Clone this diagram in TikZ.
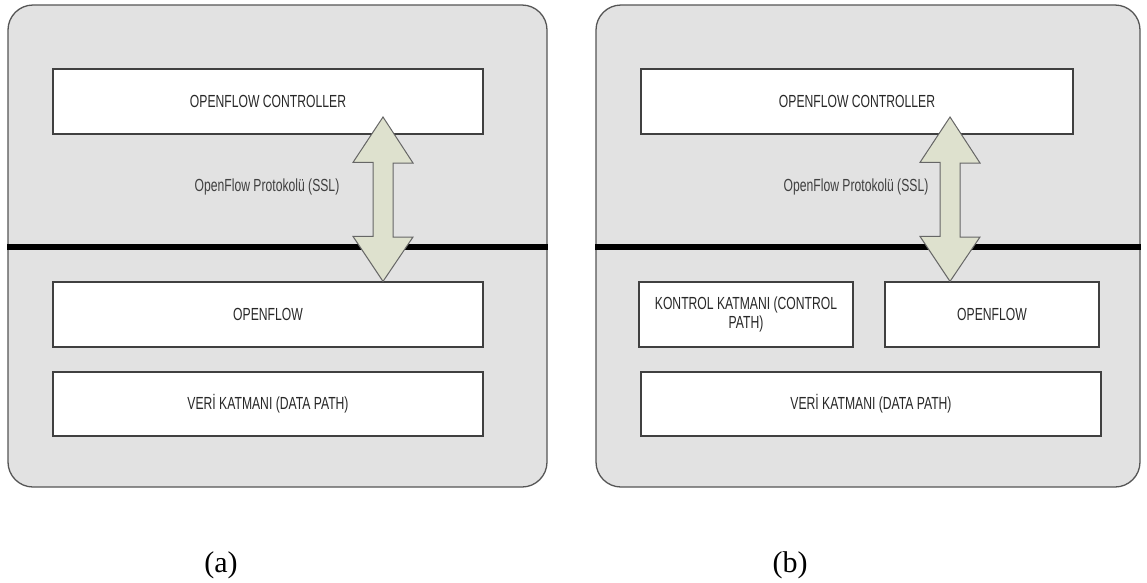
\documentclass[tikz,border=0pt]{standalone}
\usepackage{fontspec}
\setmainfont{Liberation Serif}
\newfontfamily\narrowfont[FakeStretch=0.695]{Liberation Sans}
\definecolor{panelgray}{RGB}{226,226,226}
\definecolor{edgegray}{RGB}{85,85,85}
\definecolor{arrowfill}{RGB}{222,225,206}
\definecolor{inkgray}{RGB}{40,40,40}
\begin{document}
\begin{tikzpicture}[x=1pt,y=-1pt,
  panel/.style={draw=edgegray,line width=1.3pt,fill=panelgray,rounded corners=25pt,inner sep=0pt},
  layerbox/.style={draw=black!75,line width=1.2pt,fill=white,inner sep=0pt,
    font=\narrowfont\fontsize{17.5}{19}\selectfont,text=inkgray,align=center},
  divider/.style={line width=5.5pt,black},
  linkarrow/.style={draw=black!60,line width=1pt,fill=arrowfill,line join=miter},
  proto/.style={font=\narrowfont\fontsize{17.5}{19}\selectfont,text=black!75},
  caption/.style={font=\fontsize{30}{34}\selectfont}]
\useasboundingbox (0,0) rectangle (1147,582);

% ---------------- panel (a) ----------------
\node[panel,minimum width=539pt,minimum height=482pt] (pa) at (277.5,246) {};
\node[layerbox,minimum width=430pt,minimum height=65pt] (ctla) at (268,101.5) {OPENFLOW CONTROLLER};
\node[layerbox,minimum width=430pt,minimum height=65pt] (ofa) at (268,314.5) {OPENFLOW};
\node[layerbox,minimum width=430pt,minimum height=64pt] (dpa) at (268,404) {VER\.I KATMANI (DATA PATH)};
\node[proto] (pra) at (267,187) {OpenFlow Protokolü (SSL)};
\draw[divider] (pa.west |- 0,247) -- (pa.east |- 0,247);
\coordinate (ta) at (383,117);
\coordinate (ba) at (ofa.north -| ta);
\draw[linkarrow] (ta) -- ++(30,46) -- ++(-20,0) -- ++(0,74) -- ++(20,0)
  -- (ba) -- ++(-30,-45) -- ++(20,0) -- ++(0,-74) -- ++(-20,0) -- cycle;
\node[caption] (capa) at (221,565) {(a)};

% ---------------- panel (b) ----------------
\node[panel,minimum width=544pt,minimum height=482pt] (pb) at (868,246) {};
\node[layerbox,minimum width=432pt,minimum height=65pt] (ctlb) at (857,101.5) {OPENFLOW CONTROLLER};
\node[layerbox,minimum width=214pt,minimum height=65pt] (cpb) at (746,314.5) {KONTROL KATMANI (CONTROL\\PATH)};
\node[layerbox,minimum width=214pt,minimum height=65pt] (ofb) at (992,314.5) {OPENFLOW};
\node[layerbox,minimum width=460pt,minimum height=64pt] (dpb) at (871,404) {VER\.I KATMANI (DATA PATH)};
\node[proto] (prb) at (856,187) {OpenFlow Protokolü (SSL)};
\draw[divider] (pb.west |- 0,247) -- (pb.east |- 0,247);
\coordinate (tb) at (950,117);
\coordinate (bb) at (ofb.north -| tb);
\draw[linkarrow] (tb) -- ++(30,46) -- ++(-20,0) -- ++(0,74) -- ++(20,0)
  -- (bb) -- ++(-30,-45) -- ++(20,0) -- ++(0,-74) -- ++(-20,0) -- cycle;
\node[caption] (capb) at (790,565) {(b)};
\end{tikzpicture}
\end{document}
